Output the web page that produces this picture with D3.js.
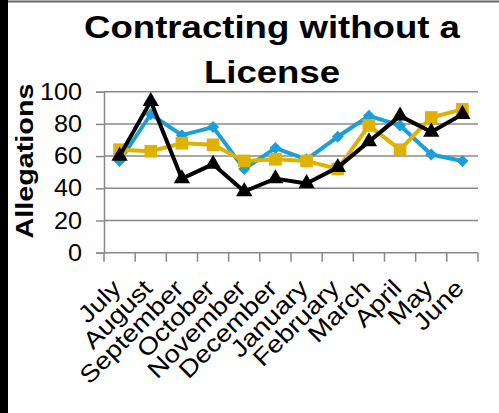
<!DOCTYPE html>
<html lang="en">
  <head>
    <meta charset="UTF-8" />
    <title>Contracting without a License</title>
    <style>
      body { margin: 0; background: #fff; }
      text { font-family: "Liberation Sans", Arial, sans-serif; }
    </style>
  </head>
  <body>
    <script src="https://d3js.org/d3.v7.min.js"></script>
    <script>
      const months = ["July", "August", "September", "October", "November", "December",
        "January", "February", "March", "April", "May", "June"];
      const blueVals = [57, 86, 73, 78, 52, 65, 58, 72, 85, 79, 61, 57];
      const goldVals = [64, 63, 68, 67, 57, 58, 57, 52, 79, 64, 84, 89];
      const blackVals = [60, 94, 46, 55, 38, 46, 43, 53, 69, 85, 75, 86];
      const yTicks = [0, 20, 40, 60, 80, 100];

      const width = 499, height = 413;
      const svg = d3.select("body").append("svg")
        .attr("width", width).attr("height", height);

      // frame bits
      svg.append("rect").attr("x", 0).attr("y", 0).attr("width", 8).attr("height", height).attr("fill", "#000");
      svg.append("line").attr("x1", 8).attr("x2", width).attr("y1", 1.5).attr("y2", 1.5)
        .attr("stroke", "#666").attr("stroke-width", 2);

      const x = d3.scaleBand().domain(months).range([104, 478]);
      const y = d3.scaleLinear().domain([0, 100]).range([252.7, 91.7]);

      // grid
      svg.append("g").selectAll("line").data(yTicks).join("line")
        .attr("x1", 104).attr("x2", 478)
        .attr("y1", d => y(d)).attr("y2", d => y(d))
        .attr("stroke", "#888").attr("stroke-width", 1.5);

      // y axis
      const yAxis = svg.append("g").attr("transform", "translate(104,0)")
        .call(d3.axisLeft(y).tickValues(yTicks).tickSize(8).tickPadding(14));
      yAxis.select(".domain").attr("stroke", "#888").attr("stroke-width", 1.5);
      yAxis.selectAll(".tick line").attr("stroke", "#888").attr("stroke-width", 1.5);
      yAxis.selectAll(".tick text").attr("font-size", 24).attr("fill", "#000")
        .attr("font-family", "Liberation Sans, Arial, sans-serif")
        .attr("x", null)
        .attr("transform", "translate(-22,0) scale(1.05,1)");

      // x axis ticks at band edges
      const edges = months.map(m => x(m)).concat([x.range()[1]]);
      svg.append("g").selectAll("line").data(edges).join("line")
        .attr("x1", d => d).attr("x2", d => d)
        .attr("y1", y(0)).attr("y2", y(0) + 9)
        .attr("stroke", "#888").attr("stroke-width", 1.5);

      svg.append("g").selectAll("text").data(months).join("text")
        .attr("transform", d => `translate(${x(d) + x.bandwidth() / 2 + 3},${y(0) + 37}) rotate(-45) scale(1.15,1)`)
        .attr("text-anchor", "end")
        .attr("font-size", 24)
        .text(d => d);

      // title
      svg.append("text").attr("transform", "translate(272,38) scale(1.18,1)").attr("text-anchor", "middle")
        .attr("font-size", 31).attr("font-weight", "bold").text("Contracting without a");
      svg.append("text").attr("transform", "translate(272,83) scale(1.18,1)").attr("text-anchor", "middle")
        .attr("font-size", 31).attr("font-weight", "bold").text("License");

      // y label
      svg.append("text").attr("transform", "translate(33,161) rotate(-90) scale(1.25,1)")
        .attr("text-anchor", "middle").attr("font-size", 23).attr("font-weight", "bold")
        .text("Allegations");

      const line = d3.line().x((d, i) => x(months[i]) + x.bandwidth() / 2).y(d => y(d));

      const series = [
        { vals: blueVals, color: "#1c9fd8", symbol: d3.symbolSquare, size: 72, rot: 45 },
        { vals: goldVals, color: "#dfb100", symbol: d3.symbolSquare, size: 160, rot: 0 },
        { vals: blackVals, color: "#000000", symbol: d3.symbolTriangle, size: 115, rot: 0 }
      ];

      series.forEach(s => {
        svg.append("path").datum(s.vals).attr("d", line)
          .attr("fill", "none").attr("stroke", s.color).attr("stroke-width", 4)
          .attr("stroke-linejoin", "round");
        svg.append("g").selectAll("path").data(s.vals).join("path")
          .attr("d", d3.symbol().type(s.symbol).size(s.size))
          .attr("transform", (d, i) => `translate(${x(months[i]) + x.bandwidth() / 2},${y(d)}) rotate(${s.rot})`)
          .attr("fill", s.color);
      });
    </script>
  </body>
</html>
